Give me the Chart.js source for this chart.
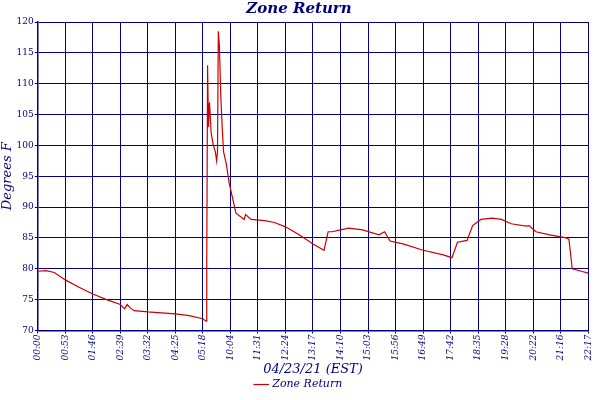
<!DOCTYPE html>
<html>
<head>
<script src="https://cdn.jsdelivr.net/npm/chart.js@4"></script>
<style>
	body { margin: 0; background: #fff; }
	#wrap { width: 600px; height: 400px; }
</style>
</head>
<body>
<div id="wrap"><canvas id="c"></canvas></div>
<script>
// x position in tick intervals (0..20), y in degrees F
const tickLabels = ['00:00', '00:53', '01:46', '02:39', '03:32', '04:25', '05:18', '10:04', '11:31', '12:24',
	'13:17', '14:10', '15:03', '15:56', '16:49', '17:42', '18:35', '19:28', '20:22', '21:16', '22:17'];
const pos = [0, 0.3, 0.6, 1, 1.5, 2, 2.5, 3, 3.15, 3.25, 3.35, 3.5, 4, 5, 5.5, 6, 6.08, 6.12,
	6.14, 6.17, 6.2, 6.24, 6.3, 6.38, 6.45, 6.5, 6.53, 6.56, 6.6, 6.65, 6.7, 6.75, 6.85, 6.95, 7.05, 7.2,
	7.5, 7.55, 7.75, 8.25, 8.6, 9, 9.5, 10, 10.4, 10.55, 10.7, 11, 11.3, 11.8, 12.4, 12.6, 12.8, 13.3,
	14, 14.7, 15.05, 15.25, 15.6, 15.8, 16.1, 16.5, 16.85, 17.2, 17.75, 17.85, 18.1, 18.6, 19.2, 19.3,
	19.42, 19.75, 20];
const temps = [79.6, 79.7, 79.4, 78.2, 77, 75.9, 75, 74.2, 73.5, 74.2, 73.7, 73.2, 73, 72.7, 72.4, 71.9, 71.6, 71.5,
	81, 113, 103, 107, 102, 100, 99, 97.5, 99, 118.5, 116, 108, 103, 99, 97, 94, 92, 89,
	88, 88.8, 88, 87.8, 87.5, 86.8, 85.5, 84, 83, 86, 86, 86.3, 86.6, 86.3, 85.5, 86, 84.5, 84,
	83, 82.3, 81.8, 84.3, 84.6, 87, 88, 88.2, 88, 87.3, 86.9, 87, 86, 85.5, 85, 84.8,
	80, 79.6, 79.3];

const navy = '#000080';
const fontFam = '"DejaVu Serif", serif';

window.onload = function() {
	new Chart(document.getElementById('c').getContext('2d'), {
		type: 'line',
		data: {
			datasets: [{
				label: 'Zone Return',
				data: pos.map((x, i) => ({ x: x, y: temps[i] })),
				borderColor: '#cc0000',
				backgroundColor: '#cc0000',
				borderWidth: 1.2,
				pointRadius: 0,
				tension: 0,
			}],
		},
		options: {
			responsive: true,
			maintainAspectRatio: false,
			animation: false,
			layout: { padding: { right: 2, top: 0, bottom: 0 } },
			plugins: {
				title: {
					display: true,
					text: 'Zone Return',
					color: navy,
					font: { family: fontFam, size: 15, style: 'italic', weight: 'bold' },
					padding: { top: 0, bottom: 4 },
				},
				legend: {
					position: 'bottom',
					labels: {
						color: navy,
						usePointStyle: true,
						pointStyle: 'line',
						boxWidth: 14,
						font: { family: fontFam, size: 11, style: 'italic' },
						padding: 2,
					},
				},
				tooltip: { enabled: false },
			},
			scales: {
				x: {
					type: 'linear',
					min: 0,
					max: 20,
					ticks: {
						stepSize: 1,
						color: navy,
						maxRotation: 90,
						minRotation: 90,
						autoSkip: false,
						padding: 1,
						font: { family: fontFam, size: 9, style: 'italic' },
						callback: v => tickLabels[v],
					},
					grid: { color: navy, lineWidth: 1, tickLength: 3 },
					border: { color: navy, width: 1.5 },
					title: {
						display: true,
						text: '04/23/21 (EST)',
						color: navy,
						font: { family: fontFam, size: 13, style: 'italic' },
						padding: { top: 0, bottom: 0 },
					},
				},
				y: {
					min: 70,
					max: 120,
					ticks: {
						stepSize: 5,
						color: navy,
						padding: 1,
						font: { family: fontFam, size: 9 },
					},
					grid: { color: navy, lineWidth: 1, tickLength: 3 },
					border: { color: navy, width: 1.5 },
					title: {
						display: true,
						text: 'Degrees F',
						color: navy,
						font: { family: fontFam, size: 13, style: 'italic' },
						padding: 0,
					},
				},
			},
		},
	});
};
</script>
</body>
</html>
